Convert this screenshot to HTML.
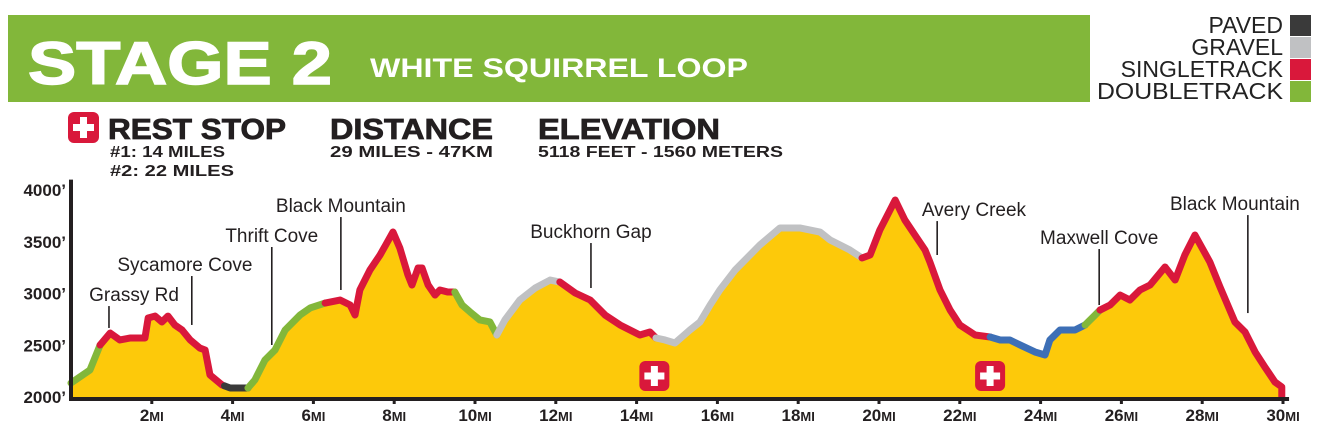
<!DOCTYPE html>
<html><head><meta charset="utf-8"><style>
html,body{margin:0;padding:0;background:#fff;}
body{width:1336px;height:435px;overflow:hidden;position:relative;font-family:"Liberation Sans",sans-serif;}
svg{position:absolute;left:0;top:0;}
.b{font-family:"Liberation Sans",sans-serif;font-weight:bold;}
.n{font-family:"Liberation Sans Narrow","Liberation Sans",sans-serif;}
</style></head><body>
<svg id="c" width="1336" height="435" viewBox="0 0 1336 435">
<rect x="8" y="15" width="1082" height="87" fill="#82b73a"/>
<text x="28" y="84" class="b" font-size="60" fill="#fff" stroke="#fff" stroke-width="1.5" textLength="304" lengthAdjust="spacingAndGlyphs">STAGE 2</text>
<text x="370" y="77" class="b" font-size="27" fill="#fff" textLength="378" lengthAdjust="spacingAndGlyphs">WHITE SQUIRREL LOOP</text>
<g class="n" font-size="23" fill="#222" text-anchor="end">
<text x="1283" y="33">PAVED</text><rect x="1290" y="15" width="21" height="21" fill="#3a3a3a"/>
<text x="1283" y="55">GRAVEL</text><rect x="1290" y="37" width="21" height="21" fill="#c0c1c3"/>
<text x="1283" y="77">SINGLETRACK</text><rect x="1290" y="59" width="21" height="21" fill="#d9183b"/>
<text x="1283" y="99" textLength="186" lengthAdjust="spacingAndGlyphs">DOUBLETRACK</text><rect x="1290" y="81" width="21" height="21" fill="#82b73a"/>
</g>
<g>
<rect x="68" y="112" width="31" height="31" rx="6" fill="#d9183b"/><rect x="80" y="117" width="7" height="21" fill="#fff"/><rect x="73" y="124" width="21" height="7" fill="#fff"/>
<text x="108" y="139" class="b" font-size="29" fill="#231f20" stroke="#231f20" stroke-width="0.8" textLength="178" lengthAdjust="spacingAndGlyphs">REST STOP</text>
<text x="110" y="157" class="b" font-size="16" fill="#231f20" textLength="115" lengthAdjust="spacingAndGlyphs">#1: 14 MILES</text>
<text x="110" y="176" class="b" font-size="16" fill="#231f20" textLength="124" lengthAdjust="spacingAndGlyphs">#2: 22 MILES</text>
</g>
<g>
<text x="330" y="139" class="b" font-size="29" fill="#231f20" stroke="#231f20" stroke-width="0.8" textLength="163" lengthAdjust="spacingAndGlyphs">DISTANCE</text>
<text x="330" y="157" class="b" font-size="16" fill="#231f20" textLength="163" lengthAdjust="spacingAndGlyphs">29 MILES - 47KM</text>
</g>
<g>
<text x="538" y="139" class="b" font-size="29" fill="#231f20" stroke="#231f20" stroke-width="0.8" textLength="182" lengthAdjust="spacingAndGlyphs">ELEVATION</text>
<text x="538" y="157" class="b" font-size="16" fill="#231f20" textLength="245" lengthAdjust="spacingAndGlyphs">5118 FEET - 1560 METERS</text>
</g>
<g id="plot"></g>
</svg>
<script>
const miles=[0,0.47,0.72,0.97,1.21,1.46,1.83,1.91,2.08,2.25,2.40,2.57,2.75,2.95,3.19,3.32,3.44,3.74,3.94,4.38,4.55,4.80,5.05,5.30,5.67,5.92,6.29,6.66,6.91,7.03,7.15,7.40,7.65,7.97,8.14,8.34,8.44,8.59,8.69,8.84,9.01,9.13,9.33,9.50,9.68,9.88,10.12,10.37,10.54,10.74,11.11,11.49,11.86,12.10,12.48,12.85,13.22,13.59,14.08,14.33,14.48,14.70,14.95,15.32,15.57,15.82,16.06,16.44,17.05,17.55,18.04,18.54,18.79,19.28,19.58,19.78,20.02,20.40,20.64,20.89,21.14,21.26,21.51,21.76,22.00,22.38,22.75,23.00,23.24,23.49,23.86,24.11,24.23,24.48,24.85,25.10,25.35,25.47,25.72,25.97,26.21,26.46,26.71,27.08,27.33,27.57,27.82,28.19,28.44,28.81,29.06,29.31,29.55,29.80,29.97];
const elev=[2135,2261,2502,2618,2551,2570,2570,2763,2782,2725,2782,2696,2647,2551,2473,2454,2213,2116,2087,2087,2164,2357,2454,2647,2792,2860,2908,2937,2889,2792,3034,3227,3372,3594,3439,3179,3082,3246,3246,3082,2985,3034,3014,3014,2889,2821,2744,2725,2599,2744,2937,3053,3130,3111,3005,2937,2792,2696,2599,2628,2570,2551,2522,2647,2725,2889,3034,3227,3468,3633,3633,3594,3517,3420,3343,3372,3613,3903,3710,3565,3420,3304,3034,2840,2696,2599,2580,2551,2551,2503,2435,2406,2551,2647,2647,2696,2792,2840,2889,2985,2937,3034,3082,3256,3130,3372,3565,3304,3063,2725,2628,2435,2290,2145,2097];
const segStart=[0,0.72,3.80,4.38,6.29,9.50,10.54,12.10,14.48,19.58,22.75,25.10,25.47];
const segEnd=[0.72,3.80,4.38,6.29,9.50,10.54,12.10,14.48,19.58,22.75,25.10,25.47,30];
const segType=["double","single","paved","double","single","double","gravel","single","gravel","single","blue","double","single"];
const xTicks=[2,4,6,8,10,12,14,16,18,20,22,24,26,28,30];
const yTicks=[2000,2500,3000,3500,4000];
const landmarks=["Grassy Rd","Sycamore Cove","Thrift Cove","Black Mountain","Buckhorn Gap","Avery Creek","Maxwell Cove","Black Mountain"];
const landmarkMile=[0.94,2.99,4.97,6.68,12.87,21.44,25.45,29.13];
const labelMile=[1.56,2.82,4.97,6.68,12.87,22.35,25.45,28.81];
const labelElev=[2927,3217,3497,3787,3536,3748,3478,3806];
const pinElev=[2667,2696,2502,3034,3053,3372,2889,2811];
const restMiles=[14.44,22.75];
const colors={double:"#82b73a",single:"#d9183b",paved:"#3a3a3a",gravel:"#c0c1c3",blue:"#3d6fb6"};
const X=m=>71+m*40.4, Y=e=>397-(e-2000)*0.1035;
const NS="http://www.w3.org/2000/svg";
const plot=document.getElementById('plot');
function mk(t,a,p){const e=document.createElementNS(NS,t);for(const k in a)e.setAttribute(k,a[k]);(p||plot).appendChild(e);return e;}
function elevAt(m){for(let i=1;i<miles.length;i++){if(m<=miles[i]){const t=(m-miles[i-1])/(miles[i]-miles[i-1]);return elev[i-1]+t*(elev[i]-elev[i-1]);}}return elev[elev.length-1];}
let d="M"+X(0)+","+Y(2000);
miles.forEach((m,i)=>{d+=" L"+X(m)+","+Y(elev[i]);});
d+=" L"+X(miles[miles.length-1])+","+Y(2000)+"Z";
const area=mk('path',{d:d,fill:"#fdc90a"});


segStart.forEach((s,j)=>{
  const e=segEnd[j];let pd="M"+X(s)+","+Y(elevAt(s));
  miles.forEach((m,i)=>{if(m>s&&m<e)pd+=" L"+X(m)+","+Y(elev[i]);});
  const ee=Math.min(e,miles[miles.length-1]);
  pd+=" L"+X(ee)+","+Y(elevAt(ee));
  if(e>=30)pd+=" L"+X(ee)+","+Y(2000);
  const p=mk('path',{d:pd,fill:"none",stroke:colors[segType[j]],"stroke-width":7,"stroke-linejoin":"round","stroke-linecap":"round"});
  
  
});
const ax=mk('path',{d:"M"+X(0)+","+Y(4100)+" V"+(Y(2000)+2)+" H"+X(30.15),fill:"none",stroke:"#231f20","stroke-width":4});


xTicks.forEach(t=>{
  const l=mk('line',{x1:X(t),x2:X(t),y1:Y(2000),y2:Y(2000)+7,stroke:"#231f20","stroke-width":3});
  
  
  const tx=mk('text',{x:X(t),y:421,"text-anchor":"middle","font-size":17,"font-weight":"bold",fill:"#231f20","font-family":"Liberation Sans, sans-serif"});
  
  
  tx.textContent=t;const ts=document.createElementNS(NS,'tspan');ts.setAttribute('font-size','13');ts.textContent="MI";tx.appendChild(ts);
});
yTicks.forEach(t=>{
  const tx=mk('text',{x:66,y:Y(t)+6,"text-anchor":"end","font-size":17,"font-weight":"bold",fill:"#231f20","font-family":"Liberation Sans, sans-serif"});
  
  
  tx.textContent=t+"\u2019";
});
landmarks.forEach((n,i)=>{
  const x=X(landmarkMile[i]);
  const l=mk('line',{x1:x,x2:x,y1:Y(labelElev[i])+5,y2:Y(pinElev[i]),stroke:"#231f20","stroke-width":1.6});
  
  
  const tx=mk('text',{x:X(labelMile[i]),y:Y(labelElev[i]),"text-anchor":"middle","font-size":19,fill:"#231f20","font-family":"Liberation Sans Narrow, Liberation Sans, sans-serif"});
  
  
  tx.textContent=n;
});
restMiles.forEach(m=>{
  const g=mk('g',{});
  
  
  const cx=X(m),cy=376;
  mk('rect',{x:cx-15,y:cy-15,width:30,height:30,rx:6,fill:"#d9183b"},g);
  mk('rect',{x:cx-3.5,y:cy-10,width:7,height:20,fill:"#fff"},g);
  mk('rect',{x:cx-10,y:cy-3.5,width:20,height:7,fill:"#fff"},g);
});
</script>
</body></html>
